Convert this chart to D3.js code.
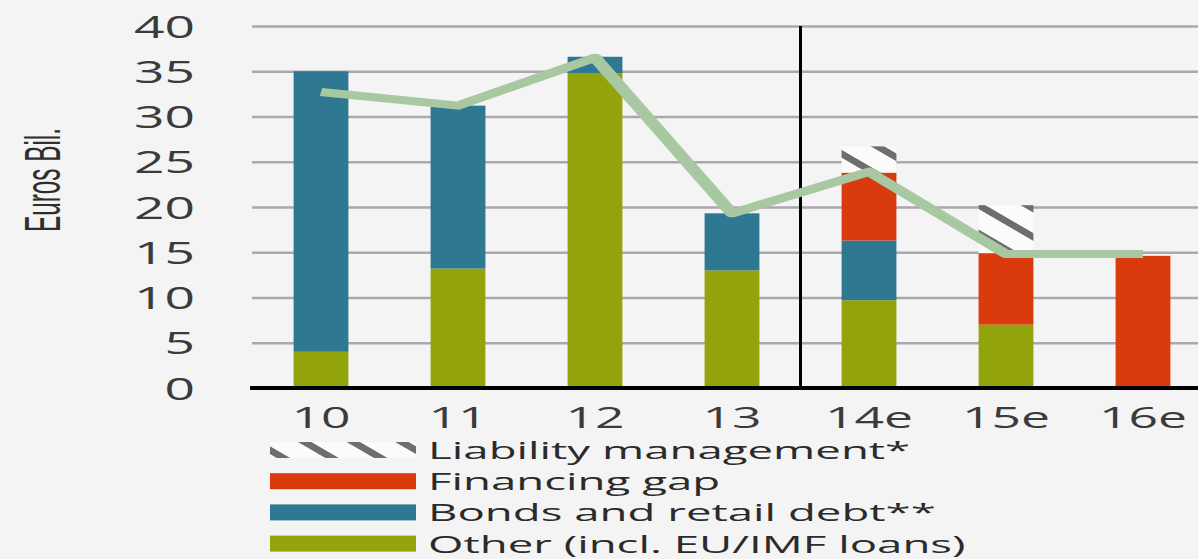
<!DOCTYPE html>
<html>
<head>
<meta charset="utf-8">
<script src="https://cdn.jsdelivr.net/npm/d3@7/dist/d3.min.js"></script>
<style>
  html, body { margin: 0; padding: 0; background: #f4f4f4; }
  svg { display: block; }
</style>
</head>
<body>
<svg id="chart" width="1198" height="559"></svg>
<script>
// Greek-style funding sources, euros bil. per year (e = estimate)
const categories = ["10", "11", "12", "13", "14e", "15e", "16e"];
const otherLoans = [4.0, 13.2, 34.8, 13.0, 9.7, 7.0, 0];
const bondsRetail = [31.0, 18.0, 1.8, 6.3, 6.6, 0, 0];
const financingGap = [0, 0, 0, 0, 7.5, 7.9, 14.6];
const liabilityMgmt = [0, 0, 0, 0, 2.9, 5.3, 0];
const totalNeeds = [32.7, 31.2, 36.5, 19.3, 23.9, 14.8, 14.8];
const yTicks = [0, 5, 10, 15, 20, 25, 30, 35, 40];

const seriesKeys = ["other", "bonds", "gap", "liability"];
const seriesLabels = {
  liability: "Liability management*",
  gap: "Financing gap",
  bonds: "Bonds and retail debt**",
  other: "Other (incl. EU/IMF loans)"
};
const legendOrder = ["liability", "gap", "bonds", "other"];

const colors = {
  other: "#93a30c",
  bonds: "#2f7891",
  gap: "#da3b0c",
  liability: "url(#hatch)"
};

// horizontal stretch applied to text and the line
const K = 1.72;
const KL = 1.9; // legend text is set a little wider
const FONT = "'Open Sans', 'Noto Sans', sans-serif";

const rows = categories.map((c, i) => ({
  cat: c,
  other: otherLoans[i],
  bonds: bondsRetail[i],
  gap: financingGap[i],
  liability: liabilityMgmt[i]
}));

const svg = d3.select("#chart");
svg.append("rect").attr("width", 1198).attr("height", 559).attr("fill", "#f4f4f4");

const defs = svg.append("defs");
const pat = defs.append("pattern")
  .attr("id", "hatch")
  .attr("patternUnits", "userSpaceOnUse")
  .attr("width", 20).attr("height", 20)
  .attr("patternTransform", `scale(${K},1) rotate(45)`);
pat.append("rect").attr("width", 20).attr("height", 20).attr("fill", "#fbfbfb");
pat.append("rect").attr("width", 20).attr("height", 5.5).attr("fill", "#6e6e6e");

const plotLeft = 252, plotRight = 1198;
const y = d3.scaleLinear().domain([0, 40]).range([388, 26]);
const x = d3.scaleBand().domain(categories)
  .range([252.5, 1211.5]).paddingInner(0.6).paddingOuter(0.3);

// gridlines + y tick labels
const yAxis = svg.append("g")
  .attr("transform", `translate(${plotLeft},0)`)
  .call(d3.axisLeft(y).tickValues(yTicks).tickSizeInner(-(plotRight - plotLeft)).tickSizeOuter(0).tickFormat(d3.format("d")));
yAxis.select(".domain").remove();
yAxis.selectAll(".tick line")
  .attr("stroke", "#aca6ad").attr("stroke-width", 2.4)
  .filter(d => d === 0).remove();
yAxis.selectAll(".tick text")
  .attr("x", 0).attr("dy", "0.36em")
  .attr("transform", `translate(-57,0) scale(${K},1)`)
  .attr("text-anchor", "end")
  .attr("fill", "#3b3b3b")
  .style("font-family", FONT).style("font-size", "31px");

// stacked bars
const stack = d3.stack().keys(seriesKeys);
const layers = stack(rows);
svg.append("g").selectAll("g")
  .data(layers).join("g")
  .attr("fill", d => colors[d.key])
  .selectAll("rect")
  .data(d => d.filter(p => p[1] - p[0] > 0))
  .join("rect")
  .attr("x", d => x(d.data.cat))
  .attr("width", x.bandwidth())
  .attr("y", d => y(d[1]))
  .attr("height", d => y(d[0]) - y(d[1]));

// divider between actuals and estimates
const divX = (x("13") + x("14e") + x.bandwidth()) / 2;
svg.append("line")
  .attr("x1", divX).attr("x2", divX)
  .attr("y1", y(40)).attr("y2", y(0))
  .attr("stroke", "#000").attr("stroke-width", 3);

// total line
const lineGen = d3.line()
  .x((d, i) => (x(categories[i]) + x.bandwidth() / 2) / K)
  .y(d => y(d));
svg.append("g").attr("transform", `scale(${K},1)`)
  .append("path")
  .datum(totalNeeds)
  .attr("d", lineGen)
  .attr("fill", "none")
  .attr("stroke", "#a8c8a2")
  .attr("stroke-width", 8)
  .attr("stroke-linejoin", "round");

// baseline axis
svg.append("line")
  .attr("x1", plotLeft - 2).attr("x2", plotRight)
  .attr("y1", y(0)).attr("y2", y(0))
  .attr("stroke", "#000").attr("stroke-width", 4);

// category labels
const xAxis = svg.append("g")
  .attr("transform", `translate(0,${y(0)})`)
  .call(d3.axisBottom(x).tickSize(0));
xAxis.select(".domain").remove();
xAxis.selectAll(".tick text")
  .attr("y", 0).attr("dy", 0)
  .attr("transform", `translate(0,40) scale(${K},1)`)
  .attr("fill", "#3b3b3b")
  .style("font-family", FONT).style("font-size", "30px");

// y axis title
svg.append("text")
  .attr("transform", `translate(60,180) scale(${K},1) rotate(-90)`)
  .attr("text-anchor", "middle")
  .attr("textLength", 104)
  .attr("lengthAdjust", "spacingAndGlyphs")
  .attr("fill", "#2e2e2e")
  .style("font-family", "'Liberation Sans Narrow', 'Liberation Sans', sans-serif")
  .style("font-size", "29px")
  .text("Euros Bil.");

// legend
const legend = svg.append("g");
const legendRows = legend.selectAll("g")
  .data(legendOrder).join("g")
  .attr("transform", (d, i) => `translate(0,${459 + i * 31.2})`);
legendRows.append("rect")
  .attr("x", 270).attr("y", -17)
  .attr("width", 146).attr("height", 16)
  .attr("fill", d => colors[d]);
legendRows.append("text")
  .attr("transform", `translate(428,0) scale(${KL},1)`)
  .attr("fill", "#2b2b2b")
  .style("font-family", FONT).style("font-size", "24px")
  .text(d => seriesLabels[d]);
</script>
</body>
</html>
